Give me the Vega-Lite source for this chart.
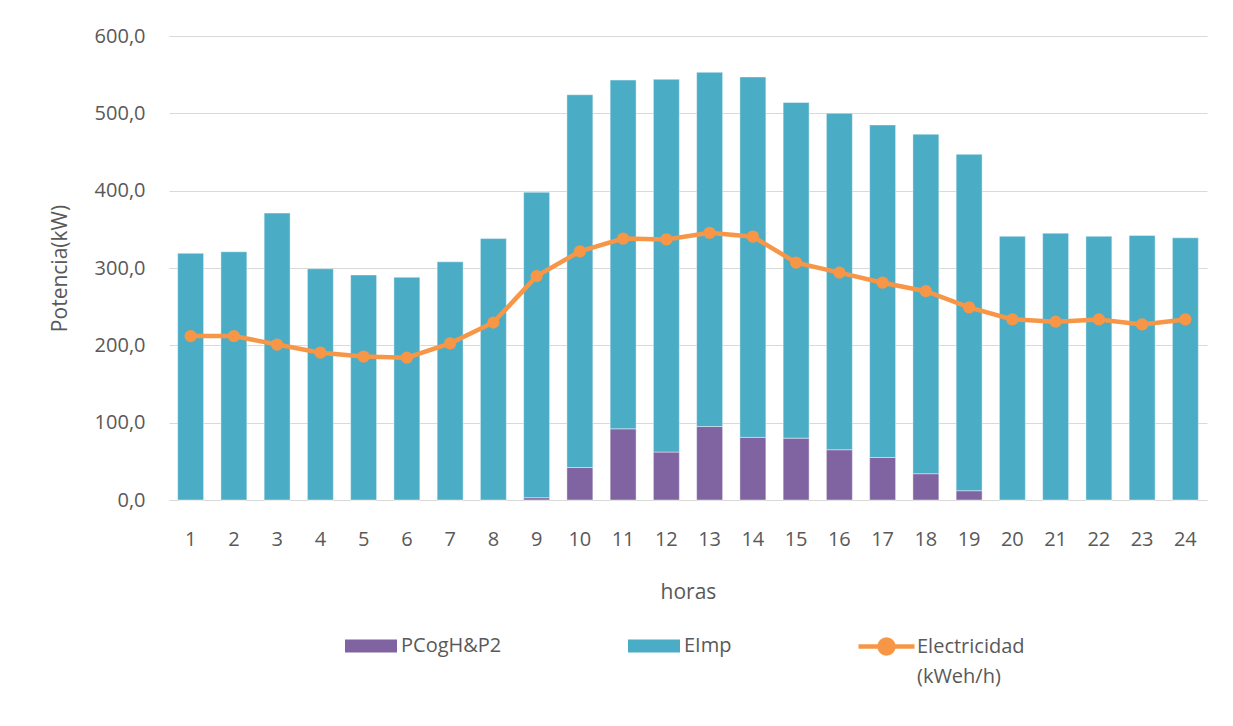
{
  "$schema": "https://vega.github.io/schema/vega-lite/v6.json",
  "width": 1038,
  "height": 464,
  "autosize": {"type": "none"},
  "padding": {"left": 169, "top": 36, "right": 26, "bottom": 226},
  "background": "white",
  "config": {
    "font": "Open Sans",
    "view": {"stroke": null},
    "axis": {"labelColor": "#595959", "titleColor": "#595959", "labelFontSize": 20, "titleFontSize": 21, "titleFontWeight": "normal", "gridColor": "#D9D9D9", "domainColor": "#D9D9D9"},
    "legend": {"labelColor": "#595959", "labelFontSize": 20}
  },
  "datasets": {
    "barras": [
      {"hora": 1, "serie": "PCogH&P2", "valor": 0}, {"hora": 1, "serie": "EImp", "valor": 319},
      {"hora": 2, "serie": "PCogH&P2", "valor": 0}, {"hora": 2, "serie": "EImp", "valor": 321},
      {"hora": 3, "serie": "PCogH&P2", "valor": 0}, {"hora": 3, "serie": "EImp", "valor": 371},
      {"hora": 4, "serie": "PCogH&P2", "valor": 0}, {"hora": 4, "serie": "EImp", "valor": 299},
      {"hora": 5, "serie": "PCogH&P2", "valor": 0}, {"hora": 5, "serie": "EImp", "valor": 291},
      {"hora": 6, "serie": "PCogH&P2", "valor": 0}, {"hora": 6, "serie": "EImp", "valor": 288},
      {"hora": 7, "serie": "PCogH&P2", "valor": 0}, {"hora": 7, "serie": "EImp", "valor": 308},
      {"hora": 8, "serie": "PCogH&P2", "valor": 0}, {"hora": 8, "serie": "EImp", "valor": 338},
      {"hora": 9, "serie": "PCogH&P2", "valor": 3}, {"hora": 9, "serie": "EImp", "valor": 395},
      {"hora": 10, "serie": "PCogH&P2", "valor": 42}, {"hora": 10, "serie": "EImp", "valor": 482},
      {"hora": 11, "serie": "PCogH&P2", "valor": 92}, {"hora": 11, "serie": "EImp", "valor": 451},
      {"hora": 12, "serie": "PCogH&P2", "valor": 62}, {"hora": 12, "serie": "EImp", "valor": 482},
      {"hora": 13, "serie": "PCogH&P2", "valor": 95}, {"hora": 13, "serie": "EImp", "valor": 458},
      {"hora": 14, "serie": "PCogH&P2", "valor": 81}, {"hora": 14, "serie": "EImp", "valor": 466},
      {"hora": 15, "serie": "PCogH&P2", "valor": 80}, {"hora": 15, "serie": "EImp", "valor": 434},
      {"hora": 16, "serie": "PCogH&P2", "valor": 65}, {"hora": 16, "serie": "EImp", "valor": 435},
      {"hora": 17, "serie": "PCogH&P2", "valor": 55}, {"hora": 17, "serie": "EImp", "valor": 430},
      {"hora": 18, "serie": "PCogH&P2", "valor": 34}, {"hora": 18, "serie": "EImp", "valor": 439},
      {"hora": 19, "serie": "PCogH&P2", "valor": 12}, {"hora": 19, "serie": "EImp", "valor": 435},
      {"hora": 20, "serie": "PCogH&P2", "valor": 0}, {"hora": 20, "serie": "EImp", "valor": 341},
      {"hora": 21, "serie": "PCogH&P2", "valor": 0}, {"hora": 21, "serie": "EImp", "valor": 345},
      {"hora": 22, "serie": "PCogH&P2", "valor": 0}, {"hora": 22, "serie": "EImp", "valor": 341},
      {"hora": 23, "serie": "PCogH&P2", "valor": 0}, {"hora": 23, "serie": "EImp", "valor": 342},
      {"hora": 24, "serie": "PCogH&P2", "valor": 0}, {"hora": 24, "serie": "EImp", "valor": 339}
    ],
    "linea": [
      {"hora": 1, "serie": "Electricidad (kWeh/h)", "valor": 212},
      {"hora": 2, "serie": "Electricidad (kWeh/h)", "valor": 212},
      {"hora": 3, "serie": "Electricidad (kWeh/h)", "valor": 201},
      {"hora": 4, "serie": "Electricidad (kWeh/h)", "valor": 190.5},
      {"hora": 5, "serie": "Electricidad (kWeh/h)", "valor": 185.5},
      {"hora": 6, "serie": "Electricidad (kWeh/h)", "valor": 184},
      {"hora": 7, "serie": "Electricidad (kWeh/h)", "valor": 202.5},
      {"hora": 8, "serie": "Electricidad (kWeh/h)", "valor": 229.5},
      {"hora": 9, "serie": "Electricidad (kWeh/h)", "valor": 289.5},
      {"hora": 10, "serie": "Electricidad (kWeh/h)", "valor": 321.5},
      {"hora": 11, "serie": "Electricidad (kWeh/h)", "valor": 338},
      {"hora": 12, "serie": "Electricidad (kWeh/h)", "valor": 337},
      {"hora": 13, "serie": "Electricidad (kWeh/h)", "valor": 345.5},
      {"hora": 14, "serie": "Electricidad (kWeh/h)", "valor": 340.5},
      {"hora": 15, "serie": "Electricidad (kWeh/h)", "valor": 307},
      {"hora": 16, "serie": "Electricidad (kWeh/h)", "valor": 294},
      {"hora": 17, "serie": "Electricidad (kWeh/h)", "valor": 281},
      {"hora": 18, "serie": "Electricidad (kWeh/h)", "valor": 270},
      {"hora": 19, "serie": "Electricidad (kWeh/h)", "valor": 249},
      {"hora": 20, "serie": "Electricidad (kWeh/h)", "valor": 233.5},
      {"hora": 21, "serie": "Electricidad (kWeh/h)", "valor": 230.5},
      {"hora": 22, "serie": "Electricidad (kWeh/h)", "valor": 233.5},
      {"hora": 23, "serie": "Electricidad (kWeh/h)", "valor": 227},
      {"hora": 24, "serie": "Electricidad (kWeh/h)", "valor": 233.5}
    ]
  },
  "encoding": {
    "x": {
      "field": "hora", "type": "ordinal",
      "scale": {"paddingInner": 0.4, "paddingOuter": 0.2},
      "axis": {"title": "horas", "labelAngle": 0, "ticks": false, "domain": true, "labelPadding": 29, "titlePadding": 32}
    }
  },
  "layer": [
    {
      "data": {"name": "barras"},
      "mark": {"type": "bar", "stroke": "white", "strokeWidth": 0.6, "strokeOpacity": 0.7},
      "encoding": {
        "y": {
          "field": "valor", "type": "quantitative", "stack": "zero",
          "scale": {"domain": [0, 600]},
          "axis": {"title": "Potencia(kW)", "values": [0, 100, 200, 300, 400, 500, 600], "labelExpr": "replace(format(datum.value, '.1f'), '.', ',')", "domain": false, "ticks": false, "labelPadding": 24, "titlePadding": 24}
        },
        "fill": {
          "field": "serie", "type": "nominal",
          "sort": ["PCogH&P2", "EImp"],
          "scale": {"domain": ["PCogH&P2", "EImp"], "range": ["#8064A2", "#4BACC6"]},
          "legend": {
            "title": null, "orient": "none", "legendX": 176, "legendY": 584, "direction": "horizontal",
            "symbolType": "M-1,-0.25H1V0.25H-1Z", "symbolSize": 2704, "symbolStrokeWidth": 0,
            "labelOffset": 4, "columnPadding": 126
          }
        },
        "order": {"field": "serie", "sort": "descending"}
      }
    },
    {
      "data": {"name": "linea"},
      "mark": {"type": "line", "strokeWidth": 4.5, "color": "#F79646"},
      "encoding": {
        "y": {"field": "valor", "type": "quantitative"},
        "stroke": {
          "field": "serie", "type": "nominal",
          "scale": {"range": ["#F79646"]},
          "legend": {
            "title": null, "orient": "none", "legendX": 687, "legendY": 580,
            "symbolType": "M-1,0H1M0.25,0A0.25,0.25 0 1,1 -0.25,0A0.25,0.25 0 1,1 0.25,0Z",
            "symbolSize": 3136, "symbolStrokeWidth": 4.5, "symbolFillColor": "#F79646",
            "labelOffset": 0,
            "labelExpr": "['Electricidad', '(kWeh/h)']",
            "encode": {"labels": {"update": {"lineHeight": {"value": 30}}}}
          }
        }
      }
    },
    {
      "data": {"name": "linea"},
      "mark": {"type": "point", "filled": true, "size": 150, "opacity": 1, "color": "#F79646"},
      "encoding": {
        "y": {"field": "valor", "type": "quantitative"}
      }
    }
  ]
}
